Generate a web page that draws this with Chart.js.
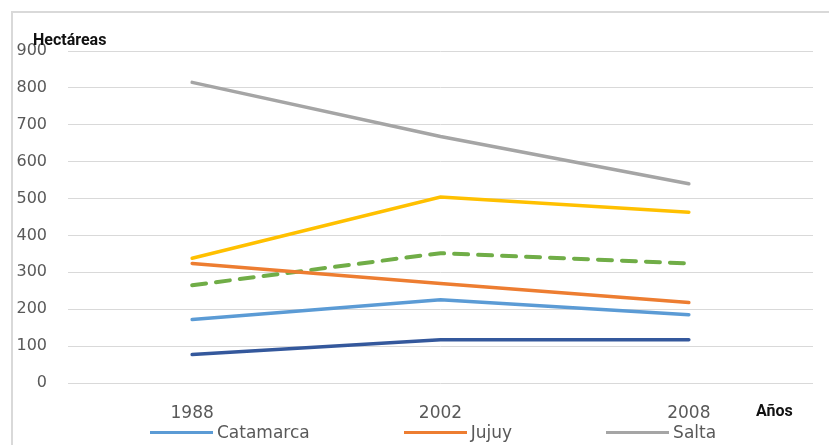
<!DOCTYPE html>
<html lang="es">
<head>
<meta charset="utf-8">
<title>Hectáreas por provincia</title>
<script src="https://cdn.jsdelivr.net/npm/chart.js@4.4.1/dist/chart.umd.min.js"></script>
<style>
  html, body { margin: 0; padding: 0; background: #fff; width: 829px; height: 445px; overflow: hidden; }
  .frame {
    position: absolute; left: 11px; top: 11px; width: 818px; height: 434px;
    border-left: 2px solid #d9d9d9; border-top: 2px solid #d9d9d9; overflow: hidden;
  }
  .frame canvas { position: absolute; left: 0; top: 0; }
  .legend {
    position: absolute; left: 137px; top: 409px; display: flex; gap: 94px;
    font: 17px "DejaVu Sans", sans-serif; color: #595959;
  }
  .legend__item { display: flex; align-items: center; white-space: nowrap; }
  .legend__line { display: inline-block; width: 63px; height: 3px; margin-right: 4px; }
</style>
</head>
<body>
<div class="frame">
  <canvas id="chart" width="816" height="420" style="width:816px;height:420px"></canvas>
  <div class="legend" id="legend"></div>
</div>
<script>
const years = ['1988', '2002', '2008'];
const yTicks = [0, 100, 200, 300, 400, 500, 600, 700, 800, 900];

const catamarca = [172, 226, 185];
const jujuy = [324, 270, 218];
const salta = [815, 668, 540];
const tucuman = [338, 504, 463];
const santiago = [77, 117, 117];
const promedio = [265, 352, 324];

const legendNames = ['Catamarca', 'Jujuy', 'Salta'];

const axisTitles = {
  id: 'axisTitles',
  afterDraw(chart) {
    const { ctx, chartArea } = chart;
    const xScale = chart.scales.x;
    ctx.save();
    ctx.fillStyle = '#111';
    ctx.font = 'bold 16px Roboto, sans-serif';
    ctx.textBaseline = 'middle';
    ctx.textAlign = 'left';
    ctx.fillText('Hectáreas', chartArea.left - 35, chartArea.top - 10);
    ctx.fillText('Años', chartArea.right - 57, xScale.top + 29);
    ctx.restore();
  },
};

const datasets = [
  { label: 'Catamarca', data: catamarca, borderColor: '#5b9bd5', borderWidth: 3.5 },
  { label: 'Jujuy', data: jujuy, borderColor: '#ed7d31', borderWidth: 3.5 },
  { label: 'Salta', data: salta, borderColor: '#a5a5a5', borderWidth: 3.5 },
  { label: 'Tucumán', data: tucuman, borderColor: '#ffc000', borderWidth: 3.5 },
  { label: 'Santiago del Estero', data: santiago, borderColor: '#34589c', borderWidth: 3.5 },
  { label: 'Promedio', data: promedio, borderColor: '#70ad47', borderWidth: 4, borderDash: [14, 10] },
].map((d) => ({ ...d, pointRadius: 0, tension: 0, fill: false, borderCapStyle: 'round' }));

const chart = new Chart(document.getElementById('chart'), {
  type: 'line',
  data: { labels: years, datasets },
  options: {
    responsive: false,
    animation: false,
    devicePixelRatio: 1,
    layout: { padding: { left: 0, right: 16, top: 38, bottom: 0 } },
    scales: {
      x: {
        offset: true,
        grid: { display: false },
        border: { display: false },
        ticks: { color: '#595959', font: { family: 'DejaVu Sans', size: 17 }, padding: 12, maxRotation: 0 },
        afterFit: (scale) => { scale.height = 50; },
      },
      y: {
        min: 0,
        max: 900,
        afterBuildTicks: (scale) => { scale.ticks = yTicks.map((v) => ({ value: v })); },
        grid: { color: '#d9d9d9', lineWidth: 1, drawTicks: false },
        border: { display: false },
        ticks: { color: '#595959', font: { family: 'DejaVu Sans', size: 16 }, padding: 21 },
        afterFit: (scale) => { scale.width = 55; },
      },
    },
    plugins: {
      legend: { display: false },
      tooltip: { enabled: false },
    },
  },
  plugins: [axisTitles],
});

function renderLegend() {
  const el = document.getElementById('legend');
  chart.data.datasets
    .filter((d) => legendNames.includes(d.label))
    .forEach((d) => {
      const item = document.createElement('span');
      item.className = 'legend__item';
      const line = document.createElement('span');
      line.className = 'legend__line';
      line.style.background = d.borderColor;
      item.appendChild(line);
      item.appendChild(document.createTextNode(d.label));
      el.appendChild(item);
    });
}

renderLegend();
</script>
</body>
</html>
